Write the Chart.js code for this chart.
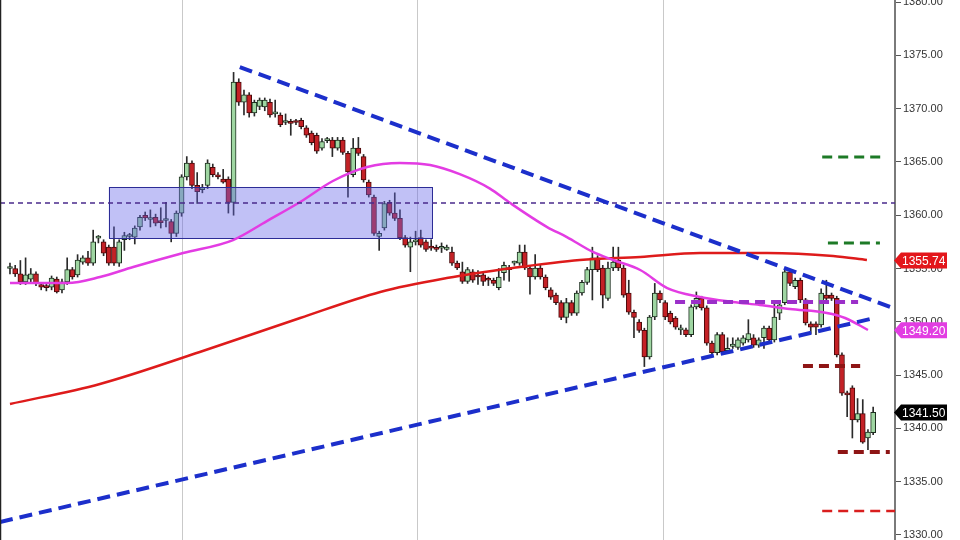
<!DOCTYPE html>
<html>
<head>
<meta charset="utf-8">
<script src="https://cdn.jsdelivr.net/npm/chart.js@4.4.0/dist/chart.umd.min.js"></script>
<style>html,body{margin:0;padding:0;background:#fff;}</style>
</head>
<body>
<canvas id="myChart" width="960" height="540"></canvas>
<script>
// candle data (one bar per index)
const opens = [1355.0,1355.0,1354.5,1353.75,1354.0,1354.5,1353.5,1353.4,1353.25,1354.0,
1353.0,1353.75,1354.9,1354.4,1355.6,1356.0,1355.5,1357.85,1357.5,1357.0,
1357.0,1355.5,1357.7,1358.0,1357.95,1358.9,1360.0,1359.6,1359.8,1359.5,
1359.5,1359.4,1358.3,1360.2,1363.6,1364.9,1362.8,1362.4,1362.8,1364.5,
1363.8,1363.4,1363.4,1361.2,1372.5,1370.6,1371.3,1369.6,1370.2,1370.15,
1370.6,1369.5,1369.4,1368.7,1368.8,1368.8,1368.9,1368.2,1367.7,1367.5,
1366.3,1367.0,1367.05,1366.3,1367.05,1365.8,1363.8,1366.3,1365.5,1363.1,
1361.7,1358.0,1358.8,1361.2,1360.2,1359.7,1357.9,1357.0,1357.5,1357.9,
1357.5,1357.1,1356.9,1356.9,1356.8,1356.55,1355.5,1354.7,1353.8,1354.7,
1354.3,1354.4,1354.0,1353.9,1353.2,1354.6,1355.05,1355.5,1355.5,1356.55,
1355.05,1354.2,1355.05,1354.2,1353.0,1352.5,1351.8,1350.4,1351.8,1350.8,
1352.7,1353.7,1354.9,1356.0,1355.05,1352.2,1355.05,1355.8,1355.05,1352.7,
1350.9,1349.98,1349.2,1346.7,1350.45,1352.7,1351.8,1350.8,1350.36,1349.25,
1349.25,1348.8,1351.4,1352.2,1351.3,1348.0,1347.1,1348.8,1347.3,1347.7,
1347.6,1348.0,1348.3,1348.5,1347.8,1348.5,1349.4,1348.3,1350.8,1351.8,
1354.7,1353.3,1353.9,1352.05,1349.8,1349.8,1349.7,1352.5,1352.5,1352.2,
1346.9,1343.3,1343.8,1340.8,1341.4,1339.1,1339.6];

const highs = [1355.5,1355.3,1355.75,1356.0,1355.0,1354.7,1353.7,1353.6,1354.3,1354.2,
1354.0,1356.0,1355.1,1356.3,1356.2,1356.6,1358.6,1358.1,1357.7,1357.2,
1358.9,1357.7,1358.4,1358.3,1359.0,1360.0,1360.3,1360.5,1360.1,1360.7,
1361.2,1359.6,1360.4,1363.8,1365.5,1365.1,1364.0,1362.9,1365.2,1364.8,
1364.0,1364.3,1363.6,1373.4,1372.8,1371.75,1371.5,1370.8,1371.0,1371.0,
1370.9,1370.8,1369.6,1369.5,1369.0,1369.0,1369.1,1368.4,1367.9,1367.7,
1367.2,1367.3,1367.3,1367.3,1367.3,1366.0,1367.2,1367.3,1365.7,1363.3,
1361.9,1358.5,1361.3,1361.4,1362.1,1360.5,1358.1,1357.95,1358.5,1358.6,
1357.7,1357.7,1357.2,1357.4,1357.2,1357.0,1355.7,1355.6,1355.1,1354.9,
1354.8,1354.6,1354.2,1354.1,1355.0,1355.6,1355.3,1355.7,1357.2,1357.2,
1355.2,1356.3,1355.3,1354.4,1353.2,1352.7,1352.0,1352.2,1352.0,1352.9,
1353.9,1355.1,1357.0,1356.2,1355.3,1355.6,1357.0,1357.0,1355.3,1353.9,
1351.1,1350.2,1349.4,1350.6,1353.6,1352.9,1352.0,1351.0,1350.5,1349.7,
1349.4,1351.6,1352.8,1352.4,1351.5,1348.2,1349.0,1349.0,1348.5,1348.5,
1348.5,1348.7,1350.2,1348.8,1348.5,1349.6,1349.6,1351.9,1351.8,1354.9,
1354.9,1354.1,1354.1,1352.2,1350.0,1350.0,1353.1,1353.9,1352.7,1352.4,
1347.1,1343.5,1344.0,1342.8,1342.7,1339.9,1342.0];

const lows = [1354.5,1354.25,1353.5,1353.5,1353.6,1353.4,1353.0,1352.9,1353.0,1352.7,
1352.7,1353.5,1354.0,1354.2,1355.4,1355.3,1355.3,1357.4,1356.2,1355.3,
1355.3,1355.2,1356.7,1357.7,1357.3,1358.6,1359.5,1358.9,1359.0,1358.8,
1358.9,1357.5,1358.0,1359.9,1363.3,1362.5,1361.1,1362.1,1362.5,1363.6,
1363.4,1363.0,1360.2,1360.0,1370.3,1369.4,1369.2,1369.3,1369.9,1369.8,
1369.2,1369.2,1368.3,1368.5,1367.5,1368.5,1368.1,1367.3,1366.6,1365.8,
1366.1,1366.8,1365.5,1366.1,1365.7,1361.7,1363.6,1365.6,1363.1,1361.7,
1358.1,1356.7,1358.6,1360.0,1359.5,1357.7,1357.0,1354.7,1357.2,1357.0,
1356.6,1356.7,1356.6,1356.5,1356.7,1355.3,1354.9,1353.6,1353.6,1353.7,
1353.5,1353.4,1353.4,1353.4,1353.0,1353.9,1353.8,1355.3,1355.3,1354.9,
1352.6,1354.0,1354.0,1353.0,1352.1,1351.6,1350.2,1349.9,1350.6,1350.6,
1352.5,1353.5,1352.05,1354.7,1351.3,1352.0,1354.8,1354.8,1352.3,1350.7,
1348.5,1349.0,1345.8,1346.5,1350.2,1351.8,1350.2,1349.8,1349.3,1348.8,
1348.6,1348.6,1351.2,1351.1,1347.8,1346.9,1346.9,1347.0,1347.1,1347.5,
1347.4,1347.8,1348.1,1347.6,1347.6,1347.5,1348.1,1348.1,1350.2,1351.6,
1353.4,1353.1,1351.8,1349.7,1348.9,1348.8,1349.5,1352.0,1352.0,1346.7,
1343.1,1341.1,1339.1,1340.6,1338.6,1338.0,1339.4];

const closes = [1355.0,1354.5,1353.75,1354.4,1354.5,1353.6,1353.25,1353.2,1354.1,1352.8,
1353.75,1354.9,1354.2,1355.8,1356.0,1355.5,1357.5,1357.85,1356.45,1355.5,
1355.5,1357.5,1358.1,1358.05,1358.8,1359.8,1359.75,1359.75,1359.25,1359.3,
1359.5,1358.3,1360.2,1363.6,1364.9,1362.8,1362.2,1362.6,1364.9,1363.8,
1363.6,1363.1,1361.2,1372.5,1370.6,1371.3,1369.6,1370.6,1370.8,1370.8,
1369.4,1369.6,1368.5,1368.8,1368.6,1368.7,1368.3,1367.5,1366.8,1366.0,
1366.9,1367.1,1366.3,1367.05,1365.9,1364.05,1366.3,1365.8,1363.3,1361.9,
1358.3,1358.3,1361.1,1360.2,1359.7,1357.9,1357.2,1357.5,1357.7,1357.2,
1356.8,1356.9,1356.8,1356.9,1357.0,1355.5,1355.05,1353.8,1354.9,1353.9,
1354.2,1353.8,1353.9,1353.6,1354.2,1355.3,1354.9,1355.6,1356.55,1355.05,
1354.2,1355.05,1354.2,1353.2,1352.3,1351.8,1350.4,1351.8,1350.8,1352.7,
1353.7,1354.9,1356.0,1354.9,1352.5,1355.05,1355.6,1355.05,1352.5,1350.9,
1350.4,1349.2,1346.7,1350.45,1352.7,1352.05,1350.45,1349.98,1349.5,1349.25,
1348.8,1351.4,1352.2,1351.3,1348.0,1347.1,1348.8,1347.2,1347.5,1347.9,
1348.3,1348.5,1348.9,1347.8,1348.3,1349.4,1348.3,1350.45,1351.6,1354.7,
1353.6,1353.9,1352.05,1349.9,1349.5,1349.5,1352.7,1352.2,1352.2,1346.9,
1343.3,1343.15,1340.8,1341.4,1338.7,1339.66,1341.5];

// moving averages (bar index, price)
const fastMaX = [0,11,17.3,23.7,33.3,42.9,49.4,55.8,62.1,68.7,75,80.8,86.5,92.3,96.2,103.3,107.1,112.1,116,121.2,126.4,132.7,139,144.2,150,157.1,160.6,165];
const fastMaY = [1353.64,1353.64,1354.2,1355.14,1356.45,1357.67,1359.45,1361.24,1363.21,1364.52,1364.9,1364.71,1363.85,1362.5,1361.14,1358.89,1357.95,1356.55,1355.8,1354.86,1353.17,1352.33,1351.86,1351.58,1351.2,1350.83,1350.36,1349.23];
const slowMaX = [0,17.3,36.5,55.8,71.2,84,96.7,109.6,121.2,132.7,145.6,158.3,164.8];
const slowMaY = [1342.29,1344.17,1347.17,1350.36,1352.8,1354.1,1355.05,1355.8,1356.08,1356.45,1356.45,1356.17,1355.8];

// trend lines
const upperTrendX = [44.2, 169.8];
const upperTrendY = [1373.9, 1351.3];
const lowerTrendX = [-1.92, 166.3];
const lowerTrendY = [1331.22, 1350.36];

// horizontal levels
const midLine = 1361.14;
const levelPrices = [1365.46, 1357.4, 1351.86, 1345.85, 1337.79, 1332.25];
const levelFrom = [156.2, 157.3, 127.9, 152.5, 159.2, 156.2];
const levelTo = [167.7, 167.3, 163.1, 163.5, 169.2, 170.2];

// consolidation box
const boxX = [19.0, 81.2];
const boxY = [1362.65, 1357.86];

// axis
const xMin = -1.92, xMax = 170.2;
const yMin = 1329.53, yMax = 1380.19;
const gridIdx = [33.1, 78.3, 125.6];
const tagValues = [1355.74, 1349.20, 1341.50];

const levelColors = ['#1d7a26', '#1d7a26', '#9b2fc9', '#8e1515', '#8e1515', '#d91e1e'];
const levelWidths = [3, 3, 4, 4, 4, 2.5];
const tagColors = ['#e3161b', '#e23de2', '#000000'];

const upFill = '#9fd6a2', upLine = '#1c2e1e';
const dnFill = '#c42126', dnLine = '#4a0a0b';

const wickData = opens.map((o, i) => ({x: i, y: [lows[i], highs[i]]}));
const bodyData = opens.map((o, i) => ({x: i, y: [Math.min(o, closes[i]), Math.max(o, closes[i])]}));
const isUp = opens.map((o, i) => closes[i] >= o);

function pts(xs, ys) {
    return xs.map((v, i) => ({x: v, y: ys[i]}));
}

const levelSets = levelPrices.map((p, i) => ({
    type: 'line',
    data: [{x: levelFrom[i], y: p}, {x: levelTo[i], y: p}],
    borderColor: levelColors[i],
    borderWidth: levelWidths[i],
    borderDash: [10, 6],
    pointRadius: 0,
    order: 3
}));

const overlay = {
    id: 'overlay',
    afterDatasetDraw(chart, args) {
        if (args.index !== 1) return;
        const xs = chart.scales.x, ys = chart.scales.y, ctx = chart.ctx;
        const l = xs.getPixelForValue(boxX[0]), r = xs.getPixelForValue(boxX[1]);
        const t = ys.getPixelForValue(boxY[0]), b = ys.getPixelForValue(boxY[1]);
        ctx.save();
        ctx.fillStyle = 'rgba(100,100,232,0.4)';
        ctx.fillRect(l, t, r - l, b - t);
        ctx.strokeStyle = '#2c2c96';
        ctx.lineWidth = 1;
        ctx.strokeRect(Math.round(l) + 0.5, Math.round(t) + 0.5, Math.round(r - l), Math.round(b - t));
        ctx.restore();
    },
    afterDraw(chart) {
        const ys = chart.scales.y, ctx = chart.ctx;
        const area = chart.chartArea;
        const x0 = area.right;
        ctx.save();
        // left frame edge
        ctx.strokeStyle = '#222';
        ctx.lineWidth = 1.5;
        ctx.beginPath();
        ctx.moveTo(area.left + 0.5, area.top);
        ctx.lineTo(area.left + 0.5, area.bottom);
        ctx.stroke();
        tagValues.forEach((v, i) => {
            const y = ys.getPixelForValue(v);
            ctx.fillStyle = tagColors[i];
            ctx.beginPath();
            ctx.moveTo(x0 - 1, y);
            ctx.lineTo(x0 + 6, y - 8);
            ctx.lineTo(x0 + 52, y - 8);
            ctx.lineTo(x0 + 52, y + 8);
            ctx.lineTo(x0 + 6, y + 8);
            ctx.closePath();
            ctx.fill();
            ctx.fillStyle = '#fff';
            ctx.font = '12px Arial';
            ctx.textAlign = 'left';
            ctx.textBaseline = 'middle';
            ctx.fillText(v.toFixed(2), x0 + 7, y + 1);
        });
        ctx.restore();
    }
};

new Chart(document.getElementById('myChart'), {
    type: 'bar',
    data: {
        datasets: [
            {
                data: wickData,
                backgroundColor: '#2a2a2a',
                barThickness: 1,
                grouped: false,
                order: 10
            },
            {
                data: bodyData,
                backgroundColor: isUp.map(u => u ? upFill : dnFill),
                borderColor: isUp.map(u => u ? upLine : dnLine),
                borderWidth: 1,
                borderSkipped: false,
                barThickness: 5,
                minBarLength: 2,
                grouped: false,
                order: 9
            },
            {
                type: 'line',
                data: pts(slowMaX, slowMaY),
                borderColor: '#de1b1b',
                borderWidth: 2.5,
                pointRadius: 0,
                cubicInterpolationMode: 'monotone',
                order: 6
            },
            {
                type: 'line',
                data: pts(fastMaX, fastMaY),
                borderColor: '#e33ce3',
                borderWidth: 2.5,
                pointRadius: 0,
                cubicInterpolationMode: 'monotone',
                order: 5
            },
            {
                type: 'line',
                data: [{x: xMin, y: midLine}, {x: xMax, y: midLine}],
                borderColor: '#4a2a8c',
                borderWidth: 1.5,
                borderDash: [5, 4],
                pointRadius: 0,
                order: 4
            },
            ...levelSets,
            {
                type: 'line',
                data: pts(upperTrendX, upperTrendY),
                borderColor: '#1c2fcb',
                borderWidth: 4,
                borderDash: [13, 7],
                pointRadius: 0,
                order: 2
            },
            {
                type: 'line',
                data: pts(lowerTrendX, lowerTrendY),
                borderColor: '#1c2fcb',
                borderWidth: 4,
                borderDash: [13, 7],
                pointRadius: 0,
                order: 2
            }
        ]
    },
    options: {
        responsive: false,
        animation: false,
        devicePixelRatio: 1,
        layout: {padding: 0, autoPadding: false},
        plugins: {
            legend: {display: false},
            tooltip: {enabled: false}
        },
        scales: {
            x: {
                type: 'linear',
                min: xMin,
                max: xMax,
                offset: false,
                afterBuildTicks: (s) => { s.ticks = gridIdx.map(v => ({value: v})); },
                afterFit: (s) => { s.height = 0; s.paddingLeft = 0; s.paddingRight = 0; },
                ticks: {display: false},
                grid: {color: '#c9c9c9', lineWidth: 1, drawTicks: false, offset: false},
                border: {display: false}
            },
            y: {
                position: 'right',
                min: yMin,
                max: yMax,
                afterFit: (s) => { s.width = 65; s.paddingTop = 0; s.paddingBottom = 0; },
                ticks: {
                    stepSize: 5,
                    includeBounds: false,
                    color: '#333',
                    padding: 2,
                    font: {family: 'Arial', size: 11},
                    callback: (v) => v.toFixed(2)
                },
                grid: {drawOnChartArea: false, tickLength: 6, color: '#555'},
                border: {color: '#7a7a7a', width: 2}
            }
        }
    },
    plugins: [overlay]
});
</script>
</body>
</html>
